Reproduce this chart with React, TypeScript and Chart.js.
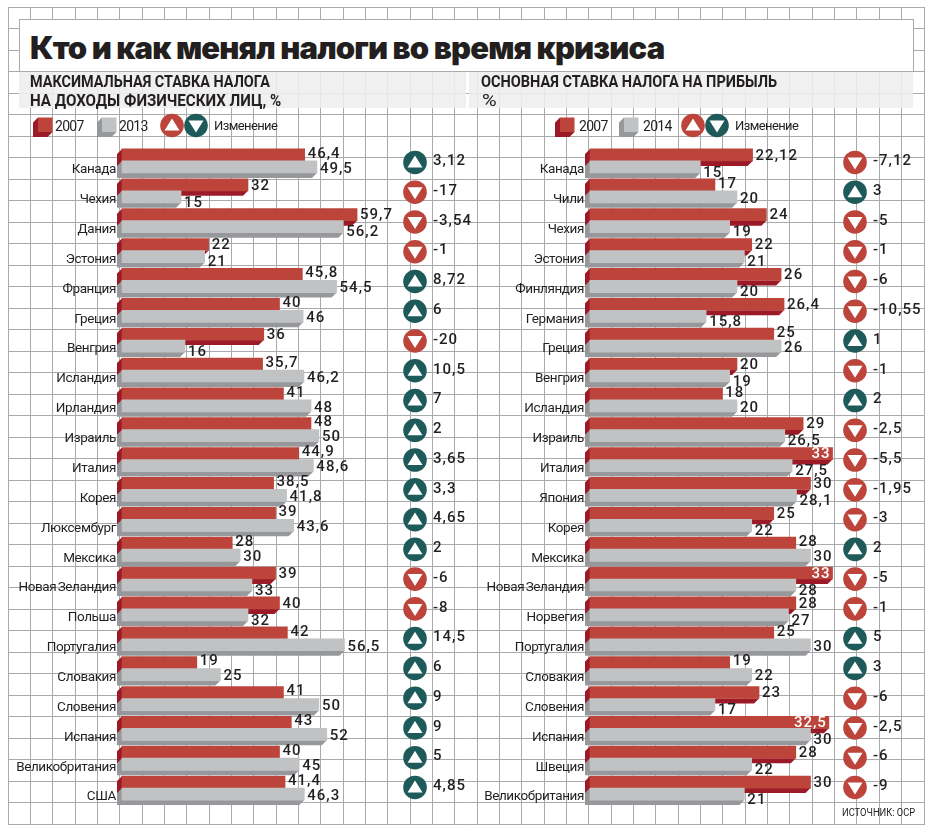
import { useEffect, useRef } from "react";
import { Chart, registerables } from "chart.js";

Chart.register(...registerables);

const TAX_COUNTRIES = ["Канада", "Чехия", "Дания", "Эстония", "Франция", "Греция", "Венгрия", "Исландия", "Ирландия", "Израиль", "Италия", "Корея", "Люксембург", "Мексика", "Новая Зеландия", "Польша", "Португалия", "Словакия", "Словения", "Испания", "Великобритания", "США"];
const TAX_2007 = [46.4, 32, 59.7, 22, 45.8, 40, 36, 35.7, 41, 48, 44.9, 38.5, 39, 28, 39, 40, 42, 19, 41, 43, 40, 41.4];
const TAX_2013 = [49.5, 15, 56.2, 21, 54.5, 46, 16, 46.2, 48, 50, 48.6, 41.8, 43.6, 30, 33, 32, 56.5, 25, 50, 52, 45, 46.3];
const TAX_CHANGE = [3.12, -17, -3.54, -1, 8.72, 6, -20, 10.5, 7, 2, 3.65, 3.3, 4.65, 2, -6, -8, 14.5, 6, 9, 9, 5, 4.85];

const PROFIT_COUNTRIES = ["Канада", "Чили", "Чехия", "Эстония", "Финляндия", "Германия", "Греция", "Венгрия", "Исландия", "Израиль", "Италия", "Япония", "Корея", "Мексика", "Новая Зеландия", "Норвегия", "Португалия", "Словакия", "Словения", "Испания", "Швеция", "Великобритания"];
const PROFIT_2007 = [22.12, 17, 24, 22, 26, 26.4, 25, 20, 18, 29, 33, 30, 25, 28, 33, 28, 25, 19, 23, 32.5, 28, 30];
const PROFIT_2014 = [15, 20, 19, 21, 20, 15.8, 26, 19, 20, 26.5, 27.5, 28.1, 22, 30, 28, 27, 30, 22, 17, 30, 22, 21];
const PROFIT_CHANGE = [-7.12, 3, -5, -1, -6, -10.55, 1, -1, 2, -2.5, -5.5, -1.95, -3, 2, -5, -1, 5, 3, -6, -2.5, -6, -9];

const RED = "#bc443a";
const RED_DARK = "#9c1a28";
const GRAY = "#c1c2c4";
const GRAY_DARK = "#97989b";
const TEAL = "#1f5a5b";
const INK = "#231f20";
const DEPTH = 5;

const fmt = (v: number) => String(v).replace(".", ",");

function badge(ctx: CanvasRenderingContext2D, x: number, y: number, color: string, up: boolean) {
  ctx.fillStyle = color;
  ctx.beginPath();
  ctx.arc(x, y, 11.8, 0, Math.PI * 2);
  ctx.fill();
  ctx.fillStyle = "#fff";
  ctx.beginPath();
  if (up) {
    ctx.moveTo(x, y - 7);
    ctx.lineTo(x + 7.5, y + 5);
    ctx.lineTo(x - 7.5, y + 5);
  } else {
    ctx.moveTo(x - 7.5, y - 5);
    ctx.lineTo(x + 7.5, y - 5);
    ctx.lineTo(x, y + 7);
  }
  ctx.closePath();
  ctx.fill();
}

function drawSides(ctx: CanvasRenderingContext2D, bars: any[], color: string) {
  ctx.fillStyle = color;
  bars.forEach((bar) => {
    const top = bar.y - bar.height / 2;
    const bottom = bar.y + bar.height / 2;
    ctx.beginPath();
    ctx.moveTo(bar.base, top);
    ctx.lineTo(bar.base - DEPTH, top + DEPTH);
    ctx.lineTo(bar.base - DEPTH, bottom + DEPTH);
    ctx.lineTo(bar.x - DEPTH, bottom + DEPTH);
    ctx.lineTo(bar.x, bottom);
    ctx.lineTo(bar.base, bottom);
    ctx.closePath();
    ctx.fill();
  });
}

// first dataset must sit above the second in the row but be painted under it,
// so both are painted here in that order, each with its side faces
const extrude = {
  id: "extrude",
  beforeDraw(chart: any) {
    chart.ctx.letterSpacing = "-0.4px";
    chart.ctx.wordSpacing = "-1.5px";
  },
  beforeDatasetsDraw(chart: any) {
    const { ctx } = chart;
    chart.data.datasets.forEach((ds: any, i: number) => {
      const meta = chart.getDatasetMeta(i);
      ctx.save();
      drawSides(ctx, meta.data, ds.sideColor);
      ctx.restore();
      meta.controller.draw();
    });
  },
  beforeDatasetDraw() {
    return false;
  },
};

// value labels and change badges
const annotate = {
  id: "annotate",
  afterDatasetsDraw(chart: any, _args: any, opts: any) {
    const { ctx } = chart;
    const red = chart.getDatasetMeta(0).data;
    const gray = chart.getDatasetMeta(1).data;
    const [a, b] = [chart.data.datasets[0].data, chart.data.datasets[1].data];
    ctx.save();
    ctx.font = "500 15px Roboto, sans-serif";
    ctx.letterSpacing = "1px";
    ctx.wordSpacing = "0px";
    ctx.textBaseline = "middle";
    a.forEach((v: number, i: number) => {
      const inside = v >= opts.insideFrom;
      ctx.fillStyle = inside ? "#fff" : INK;
      ctx.textAlign = inside ? "right" : "left";
      const dy = b[i] > v ? -1 : 1;
      ctx.fillText(fmt(v), red[i].x + (inside ? -2 : 3), red[i].y + dy);
      ctx.fillStyle = INK;
      ctx.textAlign = "left";
      ctx.fillText(fmt(b[i]), gray[i].x + 3, gray[i].y + (b[i] < v ? 6 : 2));

      const y = chart.scales.y.getPixelForValue(i) + 1.5 - i * 0.1;
      const c = opts.change[i];
      badge(ctx, opts.badgeX, y, c > 0 ? TEAL : RED, c > 0);
      ctx.fillStyle = INK;
      ctx.fillText(fmt(c), opts.badgeX + 18, y - 1);
    });
    ctx.restore();
  },
};

function swatch(ctx: CanvasRenderingContext2D, x: number, y: number, front: string, side: string) {
  const s = 14.5;
  ctx.fillStyle = side;
  ctx.beginPath();
  ctx.moveTo(x, y);
  ctx.lineTo(x - DEPTH, y + DEPTH);
  ctx.lineTo(x - DEPTH, y + s + DEPTH);
  ctx.lineTo(x + s - DEPTH, y + s + DEPTH);
  ctx.lineTo(x + s, y + s);
  ctx.closePath();
  ctx.fill();
  ctx.fillStyle = front;
  ctx.fillRect(x, y, s, s);
}

const legendRow = {
  id: "legendRow",
  afterDraw(chart: any, _args: any, opts: any) {
    const { ctx } = chart;
    const x = opts.x;
    ctx.save();
    swatch(ctx, x + 5, 117.5, RED, RED_DARK);
    swatch(ctx, x + 69, 117.5, GRAY, GRAY_DARK);
    badge(ctx, x + opts.badgeAt, 125.5, RED, true);
    badge(ctx, x + opts.badgeAt + 24, 125.5, TEAL, false);
    ctx.fillStyle = INK;
    ctx.textBaseline = "middle";
    ctx.font = "14px Roboto, sans-serif";
    ctx.letterSpacing = "-0.7px";
    ctx.fillText("2007", x + opts.yearGap, 127);
    ctx.fillText(opts.laterYear, x + 64 + opts.yearGap, 127);
    ctx.font = "13px Roboto, sans-serif";
    ctx.letterSpacing = "-0.6px";
    ctx.fillText("Изменение", x + opts.badgeAt + 42, 127);
    ctx.restore();
  },
};

interface PanelProps {
  left: number;
  width: number;
  labels: string[];
  first: number[];
  second: number[];
  change: number[];
  laterYear: string;
  axisWidth: number;
  xMax: number;
  padRight: number;
  badgeX: number;
  legendX: number;
  yearGap: number;
  badgeAt: number;
  insideFrom: number;
}

function Panel(props: PanelProps) {
  const ref = useRef<HTMLCanvasElement>(null);

  useEffect(() => {
    if (!ref.current) return;
    const chart = new Chart(ref.current, {
      type: "bar",
      data: {
        labels: props.labels,
        datasets: [
          { label: "2007", data: props.first, backgroundColor: RED, sideColor: RED_DARK, barThickness: 12 } as any,
          { label: props.laterYear, data: props.second, backgroundColor: GRAY, sideColor: GRAY_DARK, barThickness: 12 } as any,
        ],
      },
      options: {
        indexAxis: "y",
        responsive: false,
        animation: false,
        layout: { padding: { top: 146, bottom: 31, left: 0, right: props.padRight } },
        scales: {
          x: { display: false, min: 0, max: props.xMax },
          y: {
            grid: { display: false, drawTicks: false },
            border: { display: false },
            afterFit: (scale: any) => {
              scale.width = props.axisWidth;
            },
            ticks: {
              autoSkip: false,
              padding: 6,
              labelOffset: 9,
              color: INK,
              font: { family: "Roboto, sans-serif", size: 13.5 },
            },
          },
        },
        plugins: {
          legend: { display: false },
          tooltip: { enabled: false },
          annotate: { change: props.change, badgeX: props.badgeX, insideFrom: props.insideFrom },
          legendRow: { x: props.legendX, laterYear: props.laterYear, yearGap: props.yearGap, badgeAt: props.badgeAt },
        } as any,
      },
      plugins: [extrude, annotate, legendRow],
    });
    return () => chart.destroy();
  }, []);

  return <canvas ref={ref} width={props.width} height={834} style={{ position: "absolute", left: props.left, top: 0 }} />;
}

function GridBackdrop() {
  const ref = useRef<HTMLCanvasElement>(null);

  useEffect(() => {
    if (!ref.current) return;
    const lines = {
      display: true,
      type: "linear" as const,
      grid: { color: "#a9aaac", lineWidth: 1, drawTicks: false },
      border: { color: "#a9aaac" },
      ticks: { display: false, stepSize: 1, autoSkip: false, maxTicksLimit: 100 },
    };
    const chart = new Chart(ref.current, {
      type: "scatter",
      data: { datasets: [{ data: [] }] },
      options: {
        responsive: false,
        animation: false,
        layout: { padding: { left: 8, top: 7, right: 10, bottom: 10 } },
        scales: { x: { ...lines, min: 0, max: 41 }, y: { ...lines, min: 0, max: 38 } },
        plugins: { legend: { display: false }, tooltip: { enabled: false } },
      },
    });
    return () => chart.destroy();
  }, []);

  return <canvas ref={ref} width={934} height={834} style={{ position: "absolute", left: 0, top: 0 }} />;
}

function HeadLine({ x, y, squeeze, text, weight = 700 }: { x: number; y: number; squeeze: number; text: string; weight?: number }) {
  return (
    <div style={{ position: "absolute", left: x, top: y, fontFamily: "Roboto, sans-serif", fontWeight: weight, fontSize: 16, lineHeight: "19px", color: INK, whiteSpace: "nowrap", transform: `scaleX(${squeeze})`, transformOrigin: "left" }}>
      {text}
    </div>
  );
}

export default function App() {
  return (
    <div style={{ position: "absolute", left: 0, top: 0, width: 934, height: 834, background: "#fff", overflow: "hidden" }}>
      <GridBackdrop />
      <div style={{ position: "absolute", left: 19, top: 19, width: 893, height: 51, background: "#fff", border: "1px solid #a9aaac", borderBottom: "none" }} />
      <div style={{ position: "absolute", left: 19, top: 72, width: 447, height: 36, background: "rgba(238,238,239,0.88)" }} />
      <div style={{ position: "absolute", left: 469, top: 72, width: 444, height: 36, background: "rgba(238,238,239,0.88)" }} />
      <div style={{ position: "absolute", left: 30, top: 28, fontFamily: "Inter, sans-serif", fontWeight: 900, fontSize: 31, letterSpacing: "-0.85px", lineHeight: "40px", color: INK, whiteSpace: "nowrap" }}>
        Кто и как менял налоги во время кризиса
      </div>
      <HeadLine x={30} y={72} squeeze={0.9} text="МАКСИМАЛЬНАЯ СТАВКА НАЛОГА" />
      <HeadLine x={30} y={91} squeeze={0.947} text="НА ДОХОДЫ ФИЗИЧЕСКИХ ЛИЦ, %" />
      <HeadLine x={481} y={72} squeeze={0.908} text="ОСНОВНАЯ СТАВКА НАЛОГА НА ПРИБЫЛЬ" />
      <HeadLine x={482} y={91} squeeze={1.25} weight={400} text="%" />
      <Panel left={0} width={500} labels={TAX_COUNTRIES} first={TAX_2007} second={TAX_2013} change={TAX_CHANGE} laterYear="2013" axisWidth={122} xMax={80} padRight={63} badgeX={415} legendX={33} yearGap={22} badgeAt={139} insideFrom={100} />
      <Panel left={467} width={467} labels={PROFIT_COUNTRIES} first={PROFIT_2007} second={PROFIT_2014} change={PROFIT_CHANGE} laterYear="2014" axisWidth={123} xMax={40} padRight={50} badgeX={388} legendX={88} yearGap={24} badgeAt={138} insideFrom={32} />
      <div style={{ position: "absolute", left: 842, top: 806, fontFamily: "Roboto, sans-serif", fontSize: 11, lineHeight: "14px", color: INK, whiteSpace: "nowrap", transform: "scaleX(0.85)", transformOrigin: "left" }}>
        ИСТОЧНИК: ОСР
      </div>
    </div>
  );
}
